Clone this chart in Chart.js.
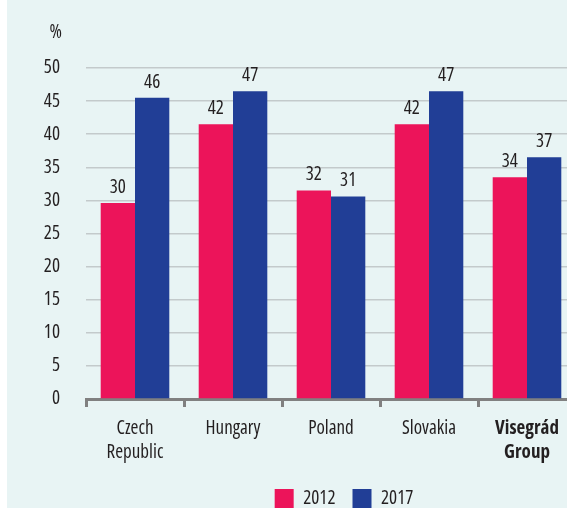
<!DOCTYPE html>
<html>
<head>
<meta charset="utf-8">
<script src="https://cdn.jsdelivr.net/npm/chart.js@4"></script>
<style>
  html, body { margin: 0; padding: 0; background: #fff; overflow: hidden; }
  #panel { position: absolute; left: 7px; top: 0; width: 560px; height: 508px; background: #e8f4f4; }
  #wrap { position: absolute; left: 0; top: 0; width: 576px; height: 518px; }
</style>
</head>
<body>
<div id="panel"></div>
<div id="wrap"><canvas id="chartV4"></canvas></div>
<script>
// --- data ---
const countries = [["Czech", "Republic"], "Hungary", "Poland", "Slovakia", ["Visegrád", "Group"]];
const years = ["2012", "2017"];
const values2012 = [29.6, 41.5, 31.5, 41.5, 33.5];
const values2017 = [45.5, 46.5, 30.6, 46.5, 36.5];
const yTicks = [0, 5, 10, 15, 20, 25, 30, 35, 40, 45, 50];

// condensed Open Sans stands in for the narrow house font
const FONT = "'Open Sans', sans-serif";
const NARROW = "condensed";
const INK = "#231f20";

// value labels over each bar + the "%" unit above the axis
const barLabels = {
  id: "barLabels",
  afterLayout(chart) {
    // legend sits a little right of the canvas centre
    chart.legend.left += 56;
    chart.legend.right += 56;
  },
  afterDatasetsDraw(chart) {
    const ctx = chart.ctx;
    ctx.save();
    ctx.font = NARROW + " 19px " + FONT;
    ctx.fillStyle = INK;
    ctx.textAlign = "center";
    ctx.textBaseline = "bottom";
    chart.data.datasets.forEach((ds, i) => {
      chart.getDatasetMeta(i).data.forEach((bar, j) => {
        ctx.fillText(Math.round(ds.data[j]), bar.x, bar.y - 6);
      });
    });
    const y = chart.scales.y;
    ctx.textAlign = "right";
    ctx.fillText("%", y.right - 24, chart.chartArea.top - 26);
    ctx.restore();
  }
};

new Chart(document.getElementById("chartV4"), {
  type: "bar",
  data: {
    labels: countries,
    datasets: [
      { label: years[0], data: values2012, backgroundColor: "#ec145a" },
      { label: years[1], data: values2017, backgroundColor: "#213e96" }
    ]
  },
  options: {
    responsive: true,
    maintainAspectRatio: false,
    animation: false,
    layout: { padding: { top: 68, right: 0, bottom: 0, left: 0 } },
    datasets: { bar: { categoryPercentage: 0.7, barPercentage: 1.0 } },
    plugins: {
      tooltip: { enabled: false },
      legend: {
        position: "bottom",
        labels: {
          boxWidth: 19, boxHeight: 19, padding: 17,
          color: INK, font: { family: FONT, size: 19, weight: NARROW }
        }
      }
    },
    scales: {
      x: {
        grid: { display: true, drawOnChartArea: false, drawTicks: true, tickLength: 8, color: "#808080", lineWidth: 3 },
        border: { display: true, color: "#808080", width: 3 },
        ticks: {
          color: INK, padding: 9, maxRotation: 0,
          font: (c) => ({ family: FONT, size: 19, weight: c.index === 4 ? "bold " + NARROW : NARROW, lineHeight: 1.3 })
        },
        afterFit(scale) { scale.height = 73; }
      },
      y: {
        min: 0, max: 50,
        afterBuildTicks(scale) { scale.ticks = yTicks.map(v => ({ value: v })); },
        grid: { color: "#c3cacb", lineWidth: 1.5, drawTicks: false },
        border: { display: false },
        ticks: { color: INK, padding: 26, font: { family: FONT, size: 19, weight: NARROW } },
        afterFit(scale) { scale.width = 86; }
      }
    }
  },
  plugins: [barLabels]
});
</script>
</body>
</html>
